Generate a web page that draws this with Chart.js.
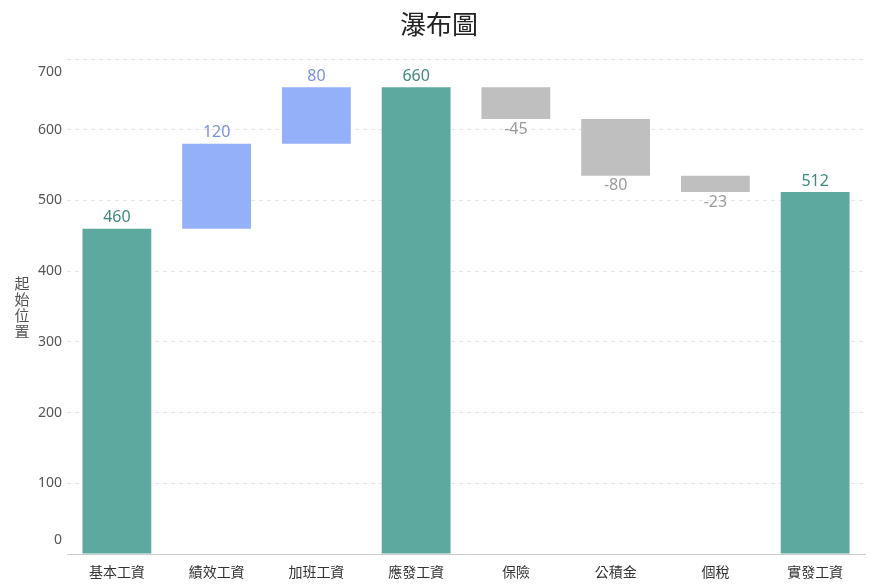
<!DOCTYPE html>
<html>
<head>
<meta charset="utf-8">
<script src="https://cdn.jsdelivr.net/npm/chart.js@4"></script>
<style>
  html, body { margin: 0; padding: 0; background: #fff; }
  #wrap { width: 875px; height: 588px; }
</style>
</head>
<body>
<div id="wrap"><canvas id="grafico"></canvas></div>
<script>
const categorias = ['基本工資', '績效工資', '加班工資', '應發工資', '保險', '公積金', '個稅', '實發工資'];
const valores = [460, 120, 80, 660, -45, -80, -23, 512];
const tipos = ['total', 'up', 'up', 'total', 'down', 'down', 'down', 'total'];
const yTicks = [0, 100, 200, 300, 400, 500, 600, 700];

const coresBarra = { total: '#5ea99f', up: '#94b0f8', down: '#bfbfbf' };
const coresTexto = { total: '#3f8a80', up: '#7691de', down: '#9a9a9a' };
const fonte = '"Noto Sans", "Noto Sans CJK TC", sans-serif';

// monta as barras flutuantes [inicio, fim]
let acumulado = 0;
const barras = valores.map(function (v, i) {
    if (tipos[i] === 'total') {
        acumulado = v;
        return [0, v];
    }
    const inicio = acumulado;
    acumulado += v;
    return [inicio, acumulado];
});

const rotulos = {
    id: 'rotulos',
    afterDatasetsDraw(chart) {
        const ctx = chart.ctx;
        const meta = chart.getDatasetMeta(0);
        ctx.save();
        ctx.font = '16px ' + fonte;
        ctx.textAlign = 'center';
        meta.data.forEach(function (bar, i) {
            const topo = Math.min(bar.y, bar.base);
            const fundo = Math.max(bar.y, bar.base);
            ctx.fillStyle = coresTexto[tipos[i]];
            if (valores[i] < 0) {
                ctx.textBaseline = 'top';
                ctx.fillText(String(valores[i]), bar.x, fundo + 2);
            } else {
                ctx.textBaseline = 'bottom';
                ctx.fillText(String(valores[i]), bar.x, topo - 3);
            }
        });

        // titulo principal
        ctx.font = '26px ' + fonte;
        ctx.fillStyle = '#222';
        ctx.textBaseline = 'middle';
        ctx.fillText('瀑布圖', 439, 27);

        // titulo do eixo y, caracteres empilhados
        const area = chart.chartArea;
        const letras = '起始位置'.split('');
        const meio = (area.top + area.bottom) / 2 + 2;
        ctx.font = '15px ' + fonte;
        ctx.fillStyle = '#555';
        letras.forEach(function (c, k) {
            ctx.fillText(c, 22, meio + (k - (letras.length - 1) / 2) * 16);
        });
        ctx.restore();
    }
};

const grafico = new Chart(document.getElementById('grafico').getContext('2d'), {
    type: 'bar',
    data: {
        labels: categorias,
        datasets: [{
            label: '起始位置',
            data: barras,
            backgroundColor: tipos.map(t => coresBarra[t]),
            borderWidth: 0,
            barPercentage: 0.69,
            categoryPercentage: 1.0
        }]
    },
    options: {
        responsive: true,
        maintainAspectRatio: false,
        animation: false,
        layout: { padding: { left: 0, right: 10, top: 59, bottom: 0 } },
        plugins: {
            legend: { display: false },
            tooltip: { enabled: false },
            title: { display: false }
        },
        scales: {
            x: {
                grid: { display: false, drawTicks: false },
                border: { display: true, color: '#cccccc' },
                ticks: {
                    color: '#333',
                    padding: 11,
                    font: { family: fonte, size: 14 }
                },
                afterFit(scale) { scale.height = 34; }
            },
            y: {
                min: 0,
                max: 700,
                afterBuildTicks(scale) {
                    scale.ticks = yTicks.map(v => ({ value: v }));
                },
                grid: {
                    drawTicks: false,
                    color: ctx => ctx.tick && ctx.tick.value === 0 ? 'rgba(0,0,0,0)' : '#e6e6e6',
                    lineWidth: 1
                },
                border: { display: false, dash: [4, 4] },
                ticks: {
                    color: '#555',
                    padding: 5,
                    font: function (ctx) {
                        let lh = 1.2;
                        if (ctx.tick && ctx.tick.value === 700) lh = 1.8;
                        if (ctx.tick && ctx.tick.value === 0) lh = 2.0;
                        return { family: fonte, size: 14, lineHeight: lh };
                    },
                    callback: function (v) {
                        if (v === 700) return ['', '700'];
                        if (v === 0) return ['0', ''];
                        return String(v);
                    }
                },
                afterFit(scale) { scale.width = 67; }
            }
        }
    },
    plugins: [rotulos]
});
</script>
</body>
</html>
